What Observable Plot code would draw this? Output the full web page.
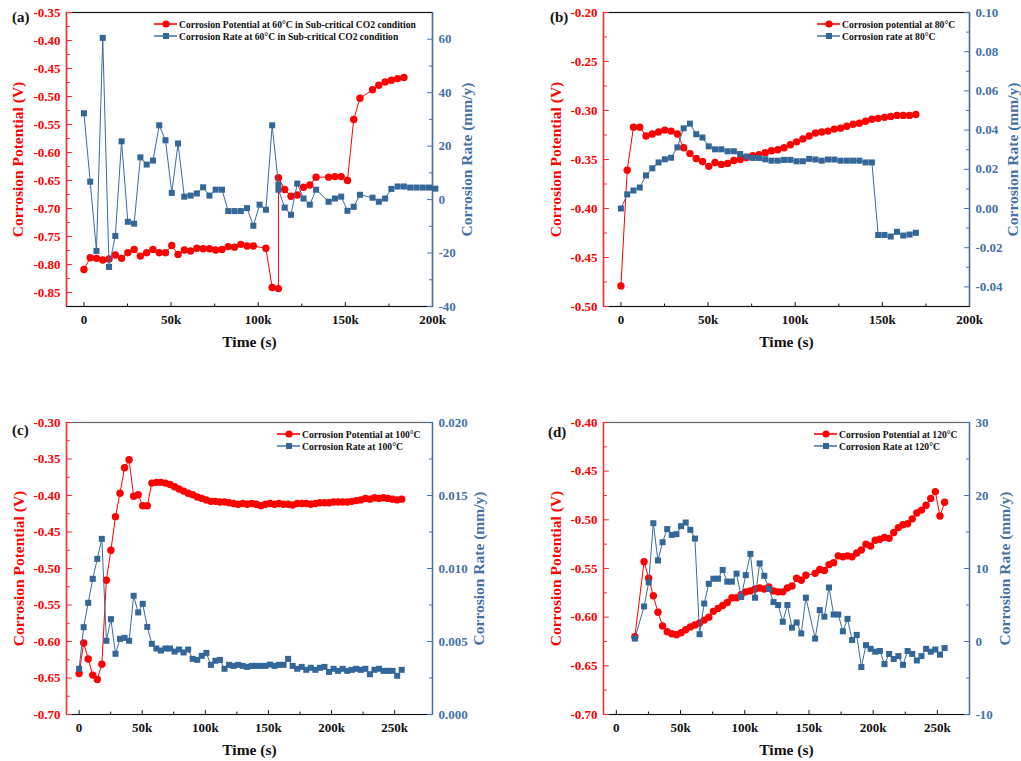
<!DOCTYPE html>
<html><head><meta charset="utf-8">
<script src="https://cdn.jsdelivr.net/npm/d3@7"></script>
<script src="https://cdn.jsdelivr.net/npm/@observablehq/plot@0.6"></script>
<style>
body{margin:0;background:#fff;}
#root{position:relative;width:1021px;height:761px;overflow:hidden;font-family:"Liberation Serif","Times New Roman",serif;font-weight:bold;background:#fff;}
.panel{position:absolute;}
.panel > svg{position:absolute;left:0;top:0;}
.panel svg text{font-family:"Liberation Serif","Times New Roman",serif !important;font-weight:bold;}
.legend{position:absolute;font-size:9.6px;white-space:nowrap;color:#111;}
.legend .row{height:12px;display:flex;align-items:center;}
.legend svg{display:block;flex:none;}
.plabel{position:absolute;font-size:15px;line-height:15px;color:#111;}
</style></head><body><div id="root"></div>
<script>
// ---------------- DATA ----------------
// (a) 60 °C sub-critical CO2
const aPotTime = [0,3600,7200,10800,14400,18000,21600,25200,28800,32400,36000,39600,43200,46800,50400,54000,57600,61200,64800,68400,72000,75600,79200,82800,86400,90000,93600,97200,104400,108000,111600,111600,115200,118800,122400,126000,129600,133200,140400,144000,147600,151200,154800,158400,165600,169200,172800,176400,180000,183600];
const aPot = [-0.809,-0.788,-0.789,-0.792,-0.790,-0.783,-0.789,-0.779,-0.773,-0.785,-0.779,-0.773,-0.779,-0.779,-0.766,-0.782,-0.774,-0.776,-0.771,-0.772,-0.772,-0.774,-0.773,-0.768,-0.769,-0.764,-0.767,-0.767,-0.771,-0.841,-0.843,-0.645,-0.666,-0.678,-0.676,-0.662,-0.658,-0.644,-0.644,-0.643,-0.643,-0.650,-0.541,-0.503,-0.488,-0.480,-0.474,-0.471,-0.468,-0.466];
const aRateTime = [0,3600,7200,10800,14400,18000,21600,25200,28800,32400,36000,39600,43200,46800,50400,54000,57600,61200,64800,68400,72000,75600,79200,82800,86400,90000,93600,97200,100800,104400,108000,111600,111600,115200,118800,122400,126000,129600,133200,140400,144000,147600,151200,154800,158400,165600,169200,172800,176400,180000,183600,187200,190800,194400,198000,201600];
const aRate = [32.3,6.7,-19.2,60.5,-25.2,-13.6,21.8,-8.3,-9.0,15.8,13.1,14.6,27.8,22.2,2.5,21.0,1.1,1.5,2.3,4.6,1.5,3.7,3.7,-4.3,-4.3,-4.3,-3.2,-9.8,-1.9,-3.8,27.8,5.6,3.7,-3.0,-5.7,6.0,0.4,-1.9,3.7,-0.8,0.4,1.1,-4.2,-2.7,1.8,0.7,-0.8,0.4,4.0,4.9,4.9,4.5,4.5,4.5,4.5,4.1];

// (b) 80 °C
const bTime = [0,3600,7200,10800,14400,18000,21600,25200,28800,32400,36000,39600,43200,46800,50400,54000,57600,61200,64800,68400,72000,75600,79200,82800,86400,90000,93600,97200,100800,104400,108000,111600,115200,118800,122400,126000,129600,133200,136800,140400,144000,147600,151200,154800,158400,162000,165600,169200];
const bPot = [-0.479,-0.361,-0.317,-0.317,-0.326,-0.324,-0.322,-0.320,-0.321,-0.324,-0.338,-0.344,-0.349,-0.352,-0.357,-0.353,-0.355,-0.354,-0.351,-0.350,-0.348,-0.346,-0.345,-0.343,-0.341,-0.340,-0.338,-0.335,-0.332,-0.329,-0.326,-0.323,-0.322,-0.321,-0.319,-0.318,-0.316,-0.314,-0.313,-0.311,-0.309,-0.308,-0.307,-0.306,-0.305,-0.305,-0.305,-0.304];
const bRate = [0.000,0.0072,0.0092,0.0107,0.0169,0.0205,0.0235,0.0251,0.0259,0.0312,0.0409,0.0433,0.0379,0.0362,0.0317,0.0302,0.0302,0.0292,0.0292,0.0278,0.0265,0.0258,0.0258,0.0251,0.0244,0.0244,0.0248,0.0248,0.0241,0.0241,0.0253,0.0250,0.0244,0.0250,0.0250,0.0244,0.0244,0.0244,0.0244,0.0235,0.0235,-0.0135,-0.0135,-0.0143,-0.0119,-0.0138,-0.0133,-0.0124];

// (c) 100 °C
const cTime = [0,3600,7200,10800,14400,18000,21600,25200,28800,32400,36000,39600,43200,46800,50400,54000,57600,61200,64800,68400,72000,75600,79200,82800,86400,90000,93600,97200,100800,104400,108000,111600,115200,118800,122400,126000,129600,133200,136800,140400,144000,147600,151200,154800,158400,162000,165600,169200,172800,176400,180000,183600,187200,190800,194400,198000,201600,205200,208800,212400,216000,219600,223200,226800,230400,234000,237600,241200,244800,248400,252000,255600];
const cPot = [-0.644,-0.602,-0.624,-0.646,-0.652,-0.631,-0.516,-0.475,-0.429,-0.397,-0.362,-0.351,-0.401,-0.399,-0.414,-0.414,-0.383,-0.382,-0.382,-0.383,-0.385,-0.388,-0.391,-0.394,-0.397,-0.399,-0.402,-0.404,-0.406,-0.408,-0.408,-0.409,-0.409,-0.410,-0.411,-0.412,-0.411,-0.412,-0.411,-0.412,-0.414,-0.412,-0.411,-0.412,-0.411,-0.412,-0.412,-0.413,-0.411,-0.411,-0.411,-0.412,-0.411,-0.410,-0.410,-0.410,-0.409,-0.409,-0.409,-0.409,-0.408,-0.407,-0.406,-0.404,-0.405,-0.403,-0.404,-0.403,-0.404,-0.405,-0.406,-0.405];
const cRate = [0.00313,0.00598,0.00765,0.00929,0.01066,0.01203,0.00505,0.00653,0.00416,0.00518,0.00525,0.00505,0.00813,0.00699,0.00758,0.00600,0.00484,0.00452,0.00438,0.00452,0.00452,0.00431,0.00445,0.00425,0.00445,0.00381,0.00374,0.00402,0.00422,0.00340,0.00368,0.00374,0.00313,0.00340,0.00333,0.00340,0.00333,0.00326,0.00333,0.00333,0.00333,0.00333,0.00342,0.00333,0.00340,0.00340,0.00381,0.00333,0.00313,0.00326,0.00306,0.00320,0.00306,0.00320,0.00326,0.00292,0.00313,0.00299,0.00313,0.00299,0.00306,0.00313,0.00306,0.00313,0.00276,0.00306,0.00313,0.00299,0.00299,0.00299,0.00265,0.00306];

// (d) 120 °C
const dTime = [14400,21600,25200,28800,32400,36000,39600,43200,46800,50400,54000,57600,61200,64800,68400,72000,75600,79200,82800,86400,90000,93600,97200,100800,104400,108000,111600,115200,118800,122400,126000,129600,133200,136800,140400,144000,147600,154800,158400,162000,165600,169200,172800,176400,180000,183600,187200,190800,194400,198000,201600,205200,208800,212400,216000,219600,223200,226800,230400,234000,237600,241200,244800,248400,252000,255600];
const dPot = [-0.620,-0.543,-0.560,-0.578,-0.595,-0.609,-0.615,-0.617,-0.618,-0.616,-0.613,-0.610,-0.608,-0.606,-0.603,-0.600,-0.594,-0.591,-0.588,-0.585,-0.580,-0.580,-0.577,-0.574,-0.573,-0.571,-0.570,-0.571,-0.569,-0.573,-0.574,-0.574,-0.570,-0.568,-0.560,-0.562,-0.557,-0.555,-0.551,-0.552,-0.546,-0.544,-0.537,-0.538,-0.537,-0.538,-0.534,-0.531,-0.525,-0.527,-0.521,-0.520,-0.518,-0.519,-0.513,-0.508,-0.505,-0.504,-0.499,-0.493,-0.490,-0.485,-0.478,-0.471,-0.496,-0.482];
const dRate = [0.4,4.8,8.1,16.2,11.1,13.6,15.4,14.6,14.7,15.8,16.3,15.3,14.1,1.0,5.2,7.9,8.6,8.6,9.8,8.2,8.2,9.3,6.1,9.1,12.0,6.0,10.7,9.0,7.2,5.4,5.0,2.7,5.0,1.9,2.6,1.1,6.0,0.4,4.3,3.4,7.4,3.7,3.7,1.4,3.1,0.2,0.9,-3.5,-0.5,-1.0,-1.4,-1.3,-3.1,-1.7,-2.4,-2.0,-3.2,-1.3,-1.7,-2.6,-2.0,-1.0,-1.4,-1.1,-1.8,-0.9];

// axis ranges and ticks
const xDomainAB = [-10000, 200000];
const xDomainC = [-10000, 280000];
const xDomainD = [-10000, 275000];
const xTicksAB = [0, 50000, 100000, 150000, 200000];
const xMinorAB = [25000, 75000, 125000, 175000];
const xTicksCD = [0, 50000, 100000, 150000, 200000, 250000];
const xMinorCD = [25000, 75000, 125000, 175000, 225000];

const aPotDomain = [-0.875, -0.35];
const aPotTicks = [-0.85,-0.80,-0.75,-0.70,-0.65,-0.60,-0.55,-0.50,-0.45,-0.40,-0.35];
const aPotMinor = [-0.825,-0.775,-0.725,-0.675,-0.625,-0.575,-0.525,-0.475,-0.425,-0.375];
const aRateDomain = [-40, 70];
const aRateTicks = [-40,-20,0,20,40,60];
const aRateMinor = [-30,-10,10,30,50];

const bPotDomain = [-0.50, -0.20];
const bPotTicks = [-0.50,-0.45,-0.40,-0.35,-0.30,-0.25,-0.20];
const bPotMinor = [-0.475,-0.425,-0.375,-0.325,-0.275,-0.225];
const bRateDomain = [-0.05, 0.10];
const bRateTicks = [-0.04,-0.02,0.00,0.02,0.04,0.06,0.08,0.10];
const bRateMinor = [-0.03,-0.01,0.01,0.03,0.05,0.07,0.09];

const cPotDomain = [-0.70, -0.30];
const cPotTicks = [-0.70,-0.65,-0.60,-0.55,-0.50,-0.45,-0.40,-0.35,-0.30];
const cPotMinor = [-0.675,-0.625,-0.575,-0.525,-0.475,-0.425,-0.375,-0.325];
const cRateDomain = [0, 0.020];
const cRateTicks = [0.000,0.005,0.010,0.015,0.020];
const cRateMinor = [0.0025,0.0075,0.0125,0.0175];

const dPotDomain = [-0.70, -0.40];
const dPotTicks = [-0.70,-0.65,-0.60,-0.55,-0.50,-0.45,-0.40];
const dPotMinor = [-0.675,-0.625,-0.575,-0.525,-0.475,-0.425];
const dRateDomain = [-10, 30];
const dRateTicks = [-10,0,10,20,30];
const dRateMinor = [-5,5,15,25];

// ---------------- DRAWING ----------------
const RED = "#ff0000";
const RED_AXIS = "#ff2a2a";
const BLUE = "#336699";
const BLUE_AXIS = "#4672a6";
const SERIF = "Liberation Serif";
const TXT = {fontFamily: SERIF, fontWeight: "bold"};

const kfmt = d => d === 0 ? "0" : (d / 1000) + "k";
const tickShape = {draw(ctx, l) { ctx.moveTo(0, 0); ctx.lineTo(0, -l); }};

function ticksY(values, anchor, len, color) {
  return Plot.vector(values, {y: d => d, frameAnchor: anchor, rotate: anchor === "left" ? 90 : -90,
    length: len, anchor: "start", shape: tickShape, stroke: color, strokeWidth: 1});
}
function ticksX(values, len) {
  return Plot.vector(values, {x: d => d, frameAnchor: "bottom", rotate: 0,
    length: len, anchor: "start", shape: tickShape, stroke: "#111", strokeWidth: 1});
}

function panel(cfg) {
  const root = document.getElementById("root");
  const div = document.createElement("div");
  div.className = "panel";
  div.style.left = cfg.left + "px"; div.style.top = cfg.top + "px";
  div.style.width = cfg.W + "px"; div.style.height = cfg.H + "px";
  root.appendChild(div);

  const common = {
    width: cfg.W, height: cfg.H,
    marginLeft: cfg.mL, marginRight: cfg.mR, marginTop: cfg.mT, marginBottom: cfg.mB,
    style: {background: "transparent", overflow: "visible", fontFamily: SERIF, fontWeight: "bold", fontSize: "13px", maxWidth: "none"}
  };
  const potData = cfg.potTime.map((t, i) => ({t, v: cfg.pot[i]}));
  const rateData = cfg.rateTime.map((t, i) => ({t, v: cfg.rate[i]}));

  const base = Plot.plot({
    ...common,
    x: {domain: cfg.xDomain, axis: null},
    y: {domain: cfg.potDomain, axis: null},
    marks: [
      Plot.frame({stroke: cfg.frameColor, strokeWidth: 1.2}),
      Plot.ruleY([cfg.potDomain[0]], {stroke: "#111", strokeWidth: 1.2}),
      Plot.ruleX([cfg.xDomain[0]], {stroke: RED_AXIS, strokeWidth: 1.4}),
      Plot.axisX({ticks: cfg.xTicks, tickFormat: kfmt, tickSize: 0, tickPadding: 8, label: null, fill: "#111", fontSize: 13, ...TXT}),
      ticksX(cfg.xTicks, 4), ticksX(cfg.xMinor, 2.5),
      Plot.axisY({anchor: "left", ticks: cfg.potTicks, tickFormat: d => d.toFixed(2), tickSize: 0, tickPadding: 6, label: null, fill: RED, fontSize: 13, ...TXT}),
      ticksY(cfg.potTicks, "left", 5, RED_AXIS), ticksY(cfg.potMinor, "left", 3, RED_AXIS),
      Plot.text(["Corrosion Potential (V)"], {text: d => d, frameAnchor: "left", dx: -cfg.lTitle, rotate: -90, textAnchor: "middle", lineAnchor: "middle", fill: RED, fontSize: 15.5, ...TXT}),
      Plot.text(["Time (s)"], {text: d => d, frameAnchor: "bottom", dy: 36, textAnchor: "middle", lineAnchor: "middle", fill: "#111", fontSize: 15.5, ...TXT}),
      Plot.line(potData, {x: "t", y: "v", stroke: RED, strokeWidth: 1}),
      Plot.dot(potData, {x: "t", y: "v", r: 3.7, fill: RED, stroke: "none"})
    ]
  });
  const over = Plot.plot({
    ...common,
    x: {domain: cfg.xDomain, axis: null},
    y: {domain: cfg.rateDomain, axis: null},
    marks: [
      Plot.ruleX([cfg.xDomain[1]], {stroke: BLUE_AXIS, strokeWidth: 1.4}),
      Plot.axisY({anchor: "right", ticks: cfg.rateTicks, tickFormat: cfg.rateFmt, tickSize: 0, tickPadding: 6, label: null, fill: BLUE_AXIS, fontSize: 13, ...TXT}),
      ticksY(cfg.rateTicks, "right", 5, BLUE_AXIS), ticksY(cfg.rateMinor, "right", 3, BLUE_AXIS),
      Plot.text(["Corrosion Rate (mm/y)"], {text: d => d, frameAnchor: "right", dx: cfg.rTitle, rotate: -90, textAnchor: "middle", lineAnchor: "middle", fill: BLUE_AXIS, fontSize: 15.5, ...TXT}),
      Plot.line(rateData, {x: "t", y: "v", stroke: "#3d6c9e", strokeWidth: 1}),
      Plot.dot(rateData, {x: "t", y: "v", r: 3.4, symbol: "square", fill: BLUE, stroke: "none"})
    ]
  });
  div.appendChild(base);
  div.appendChild(over);

  const lab = document.createElement("div");
  lab.className = "plabel";
  lab.textContent = cfg.label;
  lab.style.left = cfg.labelX + "px"; lab.style.top = cfg.labelY + "px";
  div.appendChild(lab);

  const lg = document.createElement("div");
  lg.className = "legend";
  lg.style.left = cfg.legX + "px"; lg.style.top = cfg.legY + "px";
  const sampleRed = `<svg width="23" height="12"><line x1="0" x2="23" y1="6" y2="6" stroke="${RED}" stroke-width="1.6"/><circle cx="12" cy="6" r="3.6" fill="${RED}"/></svg>`;
  const sampleBlue = `<svg width="23" height="12"><line x1="0" x2="23" y1="6" y2="6" stroke="#4d7bb0" stroke-width="1.6"/><rect x="9" y="3" width="6" height="6" fill="${BLUE}"/></svg>`;
  lg.innerHTML = `<div class="row">${sampleRed}<span style="margin-left:2px">${cfg.leg[0]}</span></div>` +
                 `<div class="row">${sampleBlue}<span style="margin-left:2px">${cfg.leg[1]}</span></div>`;
  div.appendChild(lg);
}

panel({label: "(a)", left: 0, top: 0, W: 510, H: 360, mL: 66, mR: 78, mT: 12, mB: 54,
  xDomain: xDomainAB, xTicks: xTicksAB, xMinor: xMinorAB,
  potTime: aPotTime, pot: aPot, potDomain: aPotDomain, potTicks: aPotTicks, potMinor: aPotMinor,
  rateTime: aRateTime, rate: aRate, rateDomain: aRateDomain, rateTicks: aRateTicks, rateMinor: aRateMinor,
  rateFmt: d => String(d), frameColor: "#111", lTitle: 48, rTitle: 35,
  labelX: 12, labelY: 10, legX: 154, legY: 18,
  leg: ["Corrosion Potential at 60°C in Sub-critical CO2 condition", "Corrosion Rate at 60°C in Sub-critical CO2 condition"]});

panel({label: "(b)", left: 510, top: 0, W: 511, H: 360, mL: 93, mR: 52, mT: 12, mB: 54,
  xDomain: xDomainAB, xTicks: xTicksAB, xMinor: xMinorAB,
  potTime: bTime, pot: bPot, potDomain: bPotDomain, potTicks: bPotTicks, potMinor: bPotMinor,
  rateTime: bTime, rate: bRate, rateDomain: bRateDomain, rateTicks: bRateTicks, rateMinor: bRateMinor,
  rateFmt: d => d.toFixed(2), frameColor: "#111", lTitle: 47, rTitle: 44,
  labelX: 40, labelY: 10, legX: 307, legY: 18,
  leg: ["Corrosion potential at 80°C", "Corrosion rate at 80°C"]});

panel({label: "(c)", left: 0, top: 400, W: 510, H: 361, mL: 66, mR: 78, mT: 22, mB: 47,
  xDomain: xDomainC, xTicks: xTicksCD, xMinor: xMinorCD,
  potTime: cTime, pot: cPot, potDomain: cPotDomain, potTicks: cPotTicks, potMinor: cPotMinor,
  rateTime: cTime, rate: cRate, rateDomain: cRateDomain, rateTicks: cRateTicks, rateMinor: cRateMinor,
  rateFmt: d => d.toFixed(3), frameColor: "#666", lTitle: 47, rTitle: 47,
  labelX: 12, labelY: 23, legX: 277, legY: 28,
  leg: ["Corrosion Potential at 100°C", "Corrosion Rate at 100°C"]});

panel({label: "(d)", left: 510, top: 400, W: 511, H: 361, mL: 93, mR: 52, mT: 22, mB: 47,
  xDomain: xDomainD, xTicks: xTicksCD, xMinor: xMinorCD,
  potTime: dTime, pot: dPot, potDomain: dPotDomain, potTicks: dPotTicks, potMinor: dPotMinor,
  rateTime: dTime, rate: dRate, rateDomain: dRateDomain, rateTicks: dRateTicks, rateMinor: dRateMinor,
  rateFmt: d => String(d), frameColor: "#666", lTitle: 47, rTitle: 36,
  labelX: 38, labelY: 25, legX: 304, legY: 28,
  leg: ["Corrosion Potential at 120°C", "Corrosion Rate at 120°C"]});
</script>
</body></html>
